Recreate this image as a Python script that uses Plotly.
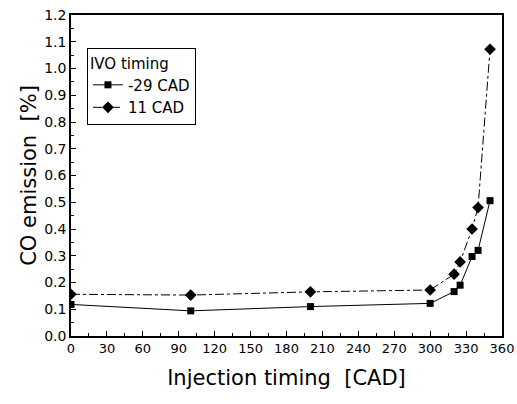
import plotly.graph_objects as go

x_vals = [0, 100, 200, 300, 320, 325, 335, 340, 350]
co_m29 = [0.118, 0.094, 0.11, 0.122, 0.166, 0.19, 0.297, 0.32, 0.506]
co_p11 = [0.156, 0.153, 0.165, 0.172, 0.231, 0.277, 0.4, 0.48, 1.072]
x_ticks = list(range(0, 361, 30))
y_ticks = [round(i * 0.1, 1) for i in range(13)]

font = "DejaVu Sans"
fig = go.Figure()
fig.add_trace(go.Scatter(x=x_vals, y=co_m29, mode="lines+markers", name="-29 CAD",
                         line=dict(color="black", width=1),
                         marker=dict(symbol="square", size=7, color="black"),
                         cliponaxis=True))
fig.add_trace(go.Scatter(x=x_vals, y=co_p11, mode="lines+markers", name="11 CAD",
                         line=dict(color="black", width=1, dash="dashdot"),
                         marker=dict(symbol="diamond", size=9, color="black"),
                         cliponaxis=True))

fig.update_layout(
    width=517, height=404,
    margin=dict(l=71, r=15, t=15, b=68, autoexpand=False),
    paper_bgcolor="white", plot_bgcolor="white",
    font=dict(family=font, color="black", size=15),
    legend=dict(title=dict(text="IVO timing", font=dict(size=15, family=font)),
                x=0.037, y=0.897, xanchor="left", yanchor="top",
                bordercolor="black", borderwidth=1, bgcolor="white",
                font=dict(size=15, family=font), tracegroupgap=0, itemwidth=30),
    showlegend=True,
)
fig.update_xaxes(range=[0, 360], tickvals=x_ticks, ticktext=[str(v) for v in x_ticks],
                 ticks="inside", ticklen=5, tickcolor="black", automargin=False,
                 minor=dict(dtick=15, tick0=0, ticks="inside", ticklen=3, tickcolor="black"),
                 showline=True, linecolor="black", linewidth=1.5, mirror=True,
                 showgrid=False, zeroline=False,
                 tickfont=dict(size=13, family=font),
                 title=dict(text="Injection timing  [CAD]", font=dict(size=21, family=font), standoff=15))
fig.update_yaxes(range=[0, 1.2], tickvals=y_ticks, ticktext=[f"{v:.1f}" for v in y_ticks],
                 ticks="inside", ticklen=5, tickcolor="black", automargin=False,
                 minor=dict(dtick=0.05, tick0=0, ticks="inside", ticklen=3, tickcolor="black"),
                 showline=True, linecolor="black", linewidth=1.5, mirror=True,
                 showgrid=False, zeroline=False,
                 tickfont=dict(size=14, family=font),
                 title=dict(text="CO emission  [%]", font=dict(size=21, family=font), standoff=2))

fig.write_html("out.html", config={"displayModeBar": False},
               post_script="document.body.style.margin='0';document.body.style.padding='0';")
